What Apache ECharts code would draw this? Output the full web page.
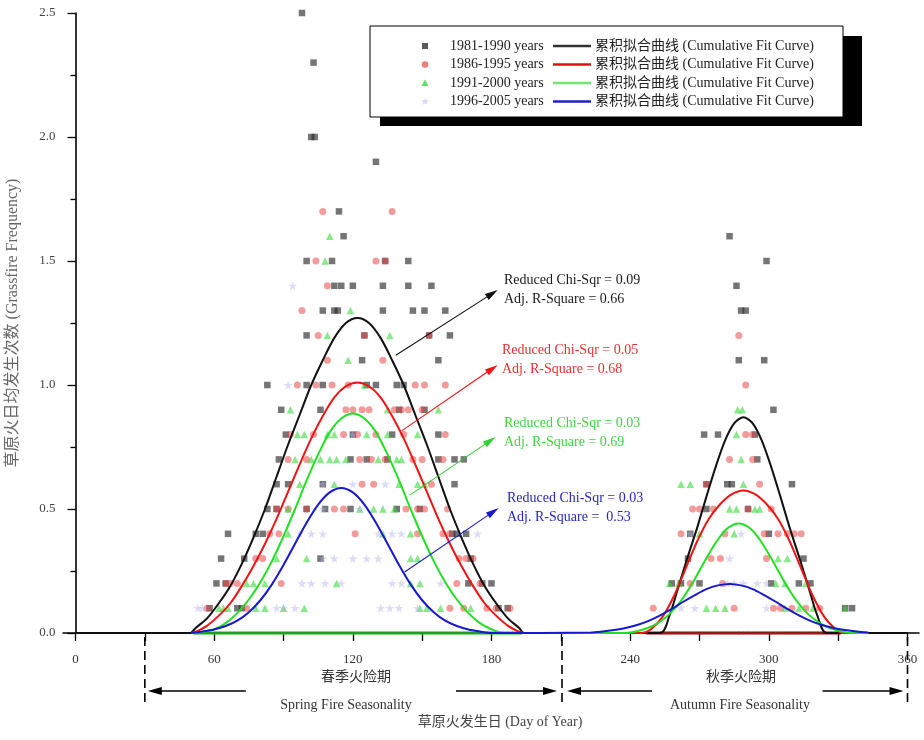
<!DOCTYPE html>
<html><head><meta charset="utf-8">
<script src="https://cdn.jsdelivr.net/npm/echarts/dist/echarts.min.js"></script>
<style>html,body{margin:0;padding:0;background:#fff}#c{width:924px;height:740px}</style>
</head><body><div id="c"></div>
<script>
// ---------------- data ----------------
const xTicks = [0, 60, 120, 180, 240, 300, 360];
const yTicks = [0.0, 0.5, 1.0, 1.5, 2.0, 2.5];

const seriesNames = ['1981-1990 years', '1986-1995 years', '1991-2000 years', '1996-2005 years'];
const curveName = '累积拟合曲线 (Cumulative Fit Curve)';

const black8190 = [[98,2.5],[103,2.3],[102,2.0],[103.5,2.0],[130,1.9],[114,1.7],[116,1.6],
[100,1.5],[111,1.5],[134,1.5],[144,1.5],
[112,1.4],[115,1.4],[120,1.4],[133,1.4],[144,1.4],[154,1.4],
[107,1.3],[112,1.3],[113.5,1.3],[133,1.3],[146,1.3],[151,1.3],[160,1.3],
[100,1.2],[125,1.2],[153,1.2],[162,1.2],
[124,1.1],[157,1.1],
[83,1.0],[100,1.0],[107,1.0],[126,1.0],[130,1.0],[139,1.0],[142,1.0],
[89,0.9],[106,0.9],[140,0.9],[151,0.9],
[91,0.8],[120,0.8],[137,0.8],[157,0.8],
[88,0.7],[119,0.7],[126,0.7],[135,0.7],[157,0.7],[164,0.7],[168,0.7],
[87,0.6],[92,0.6],[107,0.6],[164,0.6],
[83,0.5],[87,0.5],[100,0.5],[108,0.5],[119,0.5],[139,0.5],[149,0.5],
[66,0.4],[78,0.4],[81,0.4],[163,0.4],[165,0.4],[169,0.4],
[63,0.3],[73,0.3],[106,0.3],[171,0.3],
[61,0.2],[65,0.2],[170,0.2],[176,0.2],[180,0.2],
[58,0.1],[70,0.1],[72,0.1],[183,0.1],[187,0.1],
[283,1.6],[299,1.5],[286,1.4],[288,1.3],[290,1.3],[287,1.1],[298,1.1],[302,0.9],
[272,0.8],[278,0.8],[294,0.8],[295,0.7],
[273,0.6],[282,0.6],[284,0.6],[310,0.6],
[273,0.5],[291,0.5],[266,0.4],[300,0.4],[265,0.3],[315,0.3],
[258,0.2],[262,0.2],[270,0.2],[301,0.2],[313,0.2],[318,0.2],
[333,0.1],[336,0.1]];

const red8695 = [[107,1.7],[137,1.7],[104,1.5],[130,1.5],[134,1.5],[109,1.4],[98,1.3],
[105,1.2],[125,1.2],[153,1.2],[109,1.1],[133,1.1],
[96,1.0],[104,1.0],[111,1.0],[118,1.0],[147,1.0],[151,1.0],[160,1.0],
[117,0.9],[120,0.9],[124,0.9],[127,0.9],[138,0.9],[141,0.9],[144,0.9],[150,0.9],
[93,0.8],[103,0.8],[116,0.8],[122,0.8],[130,0.8],[142,0.8],[160,0.8],
[92,0.7],[100,0.7],[123,0.7],[128,0.7],[134,0.7],[146,0.7],[150,0.7],[159,0.7],
[124,0.6],[129,0.6],[154,0.6],
[87,0.5],[92,0.5],[100,0.5],[112,0.5],[116,0.5],[143,0.5],[148,0.5],[151,0.5],[161,0.5],
[84,0.4],[88,0.4],[121,0.4],[148,0.4],[159,0.4],[162,0.4],
[78,0.3],[81,0.3],[166,0.3],[169,0.3],[172,0.3],
[65,0.2],[67,0.2],[70,0.2],[89,0.2],[165,0.2],[175,0.2],
[57,0.1],[74,0.1],[162,0.1],[168,0.1],[178,0.1],[182,0.1],[188,0.1],
[287,1.2],[290,1.0],[290,0.8],[293,0.8],[283,0.7],[293,0.7],
[273,0.6],[296,0.6],
[267,0.5],[270,0.5],[276,0.5],[291,0.5],[301,0.5],
[262,0.4],[281,0.4],[298,0.4],[304,0.4],[308,0.4],[311,0.4],[314,0.4],
[275,0.3],[279,0.3],[299,0.3],
[266,0.2],[280,0.2],
[250,0.1],[285,0.1],[302,0.1],[305,0.1],[310,0.1],[316,0.1],[322,0.1]];

const green9100 = [[110,1.6],[108,1.5],[119,1.3],[109,1.2],[136,1.2],[118,1.1],[125,1.0],
[93,0.9],[135,0.9],[157,0.9],
[96,0.8],[99,0.8],[109,0.8],[112,0.8],[126,0.8],[135,0.8],[148,0.8],
[95,0.7],[102,0.7],[106,0.7],[110,0.7],[113,0.7],[117,0.7],[131,0.7],[139,0.7],[141,0.7],
[97,0.6],[112,0.6],[140,0.6],[148,0.6],[151,0.6],
[92,0.5],[123,0.5],[129,0.5],[133,0.5],[138,0.5],
[92,0.4],[133,0.4],[145,0.4],
[87,0.3],[100,0.3],[145,0.3],[148,0.3],
[74,0.2],[77,0.2],[82,0.2],[113,0.2],[145,0.2],[149,0.2],
[62,0.1],[64,0.1],[66,0.1],[78,0.1],[82,0.1],[90,0.1],[99,0.1],[149,0.1],[152,0.1],[158,0.1],[171,0.1],
[286.5,0.9],[288.5,0.9],[286,0.8],[288,0.7],
[262,0.6],[266,0.6],[289,0.6],
[283,0.5],[286,0.5],[294,0.5],[296,0.5],
[270,0.4],[285,0.4],
[304,0.3],[308,0.3],
[257,0.2],[261,0.2],[303,0.2],[307,0.2],[316,0.2],
[273,0.1],[277,0.1],[281,0.1],[307,0.1],[313,0.1],[319,0.1],[333,0.1]];

const blue9605 = [[94,1.4],[92,1.0],[120,0.8],
[107,0.6],[120,0.6],[134,0.6],
[107,0.5],[123,0.5],
[97,0.4],[102,0.4],[107,0.4],[131,0.4],[137,0.4],[141,0.4],[174,0.4],
[107,0.3],[112,0.3],[120,0.3],[126,0.3],[131,0.3],
[98,0.2],[102,0.2],[108,0.2],[115,0.2],[137,0.2],[141,0.2],[158,0.2],
[53,0.1],[55,0.1],[87,0.1],[90,0.1],[95,0.1],[132,0.1],[136,0.1],[140,0.1],[148,0.1],
[266,0.4],[288,0.4],[283,0.3],
[282,0.2],[285,0.2],[289,0.2],[295,0.2],[299,0.2],
[262,0.1],[268,0.1],[299,0.1]];

// days with zero frequency (drawn along the baseline)
const green9100ZeroDays = [52,54,56,58,60,62,64,66,68,70,72,74,76,78,80,82,84,86,88,90,92,94,96,98,100,102,104,106,108,110,112,114,116,118,120,122,124,126,128,130,132,134,136,138,140,142,144,146,148,150,152,154,156,158,160,162,164,166,168,170,172,174,176,178,180,182,184,186,188,190,192];
const red8695ZeroDays = [248,250,252,254,256,258,260,262,264,266,268,270,272,274,276,278,280,282,284,286,288,290,292,294,296,298,300,302,304,306,308,310,312,314,316,318,320,322,324,326,328,330];

// cumulative fit curves
const blackCurve = [[50,0],[52,0.02],[57,0.06],[62,0.12],[67,0.19],[72,0.28],[77,0.385],[82,0.50],[87,0.63],[92,0.76],[97,0.88],[102,1.0],[107,1.10],[112,1.19],[117,1.25],[122,1.27],[127,1.25],[132,1.19],[137,1.10],[142,1.0],[147,0.88],[152,0.76],[157,0.63],[162,0.50],[167,0.385],[172,0.28],[177,0.19],[182,0.12],[187,0.06],[192,0.02],[194,0],[220,0],[253,0],[257,0.07],[261,0.19],[265,0.31],[269,0.425],[273,0.55],[277,0.67],[281,0.775],[285,0.845],[289,0.87],[293,0.845],[297,0.775],[301,0.67],[305,0.55],[309,0.425],[313,0.31],[317,0.19],[321,0.07],[325,0],[343,0]];
const redCurve = [[50,0],[52,0.005],[57,0.03],[62,0.07],[67,0.12],[72,0.19],[77,0.27],[82,0.36],[87,0.46],[92,0.57],[97,0.68],[102,0.785],[107,0.875],[112,0.95],[117,0.995],[122,1.01],[127,0.995],[132,0.95],[137,0.875],[142,0.785],[147,0.68],[152,0.57],[157,0.46],[162,0.36],[167,0.27],[172,0.19],[177,0.12],[182,0.07],[187,0.03],[192,0.005],[194,0],[245,0],[249,0.015],[254,0.065],[259,0.15],[264,0.26],[269,0.37],[274,0.46],[279,0.52],[284,0.56],[289,0.575],[294,0.56],[299,0.52],[304,0.46],[309,0.37],[314,0.26],[319,0.15],[324,0.065],[329,0.015],[332,0],[343,0]];
const greenCurve = [[50,0],[55,0.005],[60,0.015],[65,0.04],[70,0.08],[75,0.135],[80,0.205],[85,0.29],[90,0.39],[95,0.50],[100,0.615],[105,0.72],[110,0.81],[115,0.865],[120,0.885],[125,0.865],[130,0.81],[135,0.72],[140,0.615],[145,0.50],[150,0.39],[155,0.29],[160,0.205],[165,0.135],[170,0.08],[175,0.04],[180,0.015],[185,0],[237,0],[242,0.005],[247,0.018],[252,0.04],[257,0.076],[262,0.13],[267,0.202],[272,0.285],[277,0.364],[282,0.421],[287,0.442],[292,0.421],[297,0.364],[302,0.285],[307,0.202],[312,0.13],[317,0.076],[322,0.04],[327,0.018],[332,0.005],[337,0],[343,0]];
const blueCurve = [[50,0],[55,0.006],[60,0.014],[65,0.028],[70,0.05],[75,0.084],[80,0.132],[85,0.196],[90,0.274],[95,0.36],[100,0.445],[105,0.518],[110,0.567],[115,0.585],[120,0.567],[125,0.518],[130,0.445],[135,0.36],[140,0.274],[145,0.196],[150,0.132],[155,0.084],[160,0.05],[165,0.028],[170,0.014],[175,0.006],[180,0],[223,0.002],[228,0.006],[233,0.012],[238,0.02],[243,0.032],[248,0.049],[253,0.071],[258,0.097],[263,0.126],[268,0.153],[273,0.177],[278,0.192],[283,0.198],[288,0.192],[293,0.177],[298,0.153],[303,0.126],[308,0.097],[313,0.071],[318,0.049],[323,0.032],[328,0.02],[333,0.012],[338,0.006],[343,0.002]];

// fit statistics
const chiSqr = ['0.09', '0.05', '0.03', '0.03'];
const adjR2 = ['0.66', '0.68', '0.69', ' 0.53'];
// season boundaries (day of year)
const seasonBounds = [30, 210.5, 360];

// ---------------- styles ----------------
const FONT = "'Liberation Serif','Noto Sans CJK SC',serif";
const ptColors = ['rgba(45,45,45,0.82)', 'rgba(232,70,70,0.68)', 'rgba(50,215,50,0.72)', 'rgba(175,175,235,0.55)'];
const lineColors = ['#111111', '#f01414', '#22e022', '#1818d0'];
const textColors = ['#1a1a1a', '#e83030', '#3ed83e', '#2626c8'];
const starPath = 'path://M50,2 L61,36 L97,36 L68,57 L79,92 L50,71 L21,92 L32,57 L3,36 L39,36 Z';
const symbols = ['rect', 'circle', 'triangle', starPath];
const symSizes = [6.5, 7, 7.5, 9];
const pts = [black8190, red8695, green9100, blue9605];
const curves = [blackCurve, redCurve, greenCurve, blueCurve];

const chart = echarts.init(document.getElementById('c'));
const series = [];
pts.forEach((d, i) => series.push({
  name: seriesNames[i], type: 'scatter', data: d, symbol: symbols[i], symbolSize: symSizes[i],
  itemStyle: {color: ptColors[i]}, silent: true
}));
curves.forEach((d, i) => series.push({
  name: 'curve' + i, type: 'line', data: d, showSymbol: false, smooth: 0.3,
  lineStyle: {color: lineColors[i], width: 2}, silent: true
}));
series.push({type: 'scatter', data: green9100ZeroDays.map(d => [d, 0]), symbol: 'rect', symbolSize: [5, 3.5],
  itemStyle: {color: 'rgba(40,200,40,0.95)'}, silent: true});
series.push({type: 'scatter', data: red8695ZeroDays.map(d => [d, 0]), symbol: 'rect', symbolSize: [5, 3.5],
  itemStyle: {color: 'rgba(190,30,30,0.95)'}, silent: true});

const tickStyle = {color: '#000', width: 1.3};
chart.setOption({
  animation: false,
  backgroundColor: '#fff',
  grid: {left: 75.5, right: 16.5, top: 13, bottom: 107, containLabel: false, outerBoundsMode: 'none'},
  xAxis: {
    type: 'value', min: xTicks[0], max: xTicks[xTicks.length - 1], interval: xTicks[1] - xTicks[0],
    axisLine: {show: true, lineStyle: {color: '#000', width: 1.6}},
    axisTick: {show: true, length: 8, lineStyle: tickStyle},
    minorTick: {show: true, splitNumber: 2, length: 8, lineStyle: tickStyle},
    axisLabel: {margin: 20, fontSize: 13, color: '#333', fontFamily: FONT, showMaxLabel: true, showMinLabel: true},
    splitLine: {show: false}, minorSplitLine: {show: false}
  },
  yAxis: {
    type: 'value', min: yTicks[0], max: yTicks[yTicks.length - 1], interval: yTicks[1] - yTicks[0],
    axisLine: {show: true, lineStyle: {color: '#000', width: 1.6}},
    axisTick: {show: true, length: 8, lineStyle: tickStyle},
    minorTick: {show: true, splitNumber: 2, length: 5, lineStyle: tickStyle},
    axisLabel: {margin: 20, fontSize: 13, color: '#444', fontFamily: FONT, formatter: v => v.toFixed(1)},
    splitLine: {show: false}, minorSplitLine: {show: false},
    name: '草原火日均发生次数 (Grassfire Frequency)', nameLocation: 'middle', nameGap: 55,
    nameTextStyle: {fontSize: 16, color: '#666', fontFamily: FONT}
  },
  series: series
});

// ---------------- decorations ----------------
const px = (d, v) => chart.convertToPixel({gridIndex: 0}, [d, v]);
const g = [];
function arrowHead(x1, y1, x2, y2, len, w, color) {
  const a = Math.atan2(y2 - y1, x2 - x1);
  const bx = x2 - len * Math.cos(a), by = y2 - len * Math.sin(a);
  const nx = -Math.sin(a) * w / 2, ny = Math.cos(a) * w / 2;
  return {type: 'polygon', shape: {points: [[x2, y2], [bx + nx, by + ny], [bx - nx, by - ny]]}, style: {fill: color}, z: 50};
}
function arrow(x1, y1, x2, y2, color, lw, len, w) {
  const a = Math.atan2(y2 - y1, x2 - x1);
  g.push({type: 'line', shape: {x1, y1, x2: x2 - len * 0.8 * Math.cos(a), y2: y2 - len * 0.8 * Math.sin(a)}, style: {stroke: color, lineWidth: lw}, z: 50});
  g.push(arrowHead(x1, y1, x2, y2, len, w, color));
}
function text(x, y, s, color, size, align) {
  g.push({type: 'text', x, y, style: {text: s, fill: color, font: size + 'px ' + FONT, textAlign: align || 'left', textVerticalAlign: 'middle'}, z: 60});
}

// axis line extensions
const o = px(0, 0), e = px(360, 0);
g.push({type: 'line', shape: {x1: o[0] - 13, y1: o[1], x2: e[0] + 12, y2: o[1]}, style: {stroke: '#000', lineWidth: 1.6}, z: 1});

// annotations
const annStart = [[138.6, 1.12], [141.1, 0.815], [144.6, 0.556], [142.4, 0.246]];
const annEnd = [[182.7, 1.383], [182.7, 1.081], [181.8, 0.79], [183.1, 0.504]];
const annText = [[504, 280], [502, 350], [504, 423], [507, 498]];
for (let i = 0; i < 4; i++) {
  const s = px(annStart[i][0], annStart[i][1]), t = px(annEnd[i][0], annEnd[i][1]);
  arrow(s[0], s[1], t[0], t[1], lineColors[i] === '#22e022' ? '#33d033' : lineColors[i], 1.1, 13, 7);
  text(annText[i][0], annText[i][1], 'Reduced Chi-Sqr = ' + chiSqr[i], textColors[i], 14);
  text(annText[i][0], annText[i][1] + 19.5, 'Adj. R-Square = ' + adjR2[i], textColors[i], 14);
}

// legend box
g.push({type: 'rect', shape: {x: 380, y: 36, width: 482, height: 90}, style: {fill: '#000'}, z: 40});
g.push({type: 'rect', shape: {x: 370, y: 26, width: 473, height: 91}, style: {fill: '#fff', stroke: '#000', lineWidth: 1}, z: 41});
const rowY = [46, 64.5, 83, 101.5];
const legSym = [
  y => ({type: 'rect', shape: {x: 422, y: y - 3, width: 6, height: 6}, style: {fill: 'rgba(60,60,60,0.85)'}}),
  y => ({type: 'circle', shape: {cx: 425, cy: y, r: 3.3}, style: {fill: 'rgba(232,80,80,0.75)'}}),
  y => ({type: 'polygon', shape: {points: [[425, y - 3.5], [428.5, y + 3], [421.5, y + 3]]}, style: {fill: 'rgba(60,215,60,0.8)'}}),
  y => ({type: 'polygon', shape: {points: [[425,y-4],[426,y-1.2],[429,y-1.2],[426.6,y+0.6],[427.5,y+3.5],[425,y+1.8],[422.5,y+3.5],[423.4,y+0.6],[421,y-1.2],[424,y-1.2]]}, style: {fill: 'rgba(190,190,240,0.6)'}})
];
const legLine = ['#333', '#e01010', '#6ee86e', '#2020c0'];
for (let i = 0; i < 4; i++) {
  const s = legSym[i](rowY[i]); s.z = 45; g.push(s);
  text(450, rowY[i], seriesNames[i], '#222', 14);
  g.push({type: 'line', shape: {x1: 553, y1: rowY[i], x2: 591, y2: rowY[i]}, style: {stroke: legLine[i], lineWidth: 2.6}, z: 45});
  text(595, rowY[i], curveName, '#222', 14);
}

// season boundaries and arrows
const bx = seasonBounds.map(d => px(d, 0)[0]);
bx.forEach(x => g.push({type: 'line', shape: {x1: x, y1: 637, x2: x, y2: 702}, style: {stroke: '#000', lineWidth: 1.6, lineDash: [9, 5]}, z: 30}));
const ay = 691;
arrow(bx[0] + 101, ay, bx[0] + 3, ay, '#000', 1.3, 14, 8);
arrow(bx[1] - 106, ay, bx[1] - 5, ay, '#000', 1.3, 14, 8);
arrow(bx[1] + 90, ay, bx[1] + 5, ay, '#000', 1.3, 14, 8);
arrow(bx[2] - 85, ay, bx[2] - 4, ay, '#000', 1.3, 14, 8);
text(356, 677, '春季火险期', '#333', 14, 'center');
text(346, 705, 'Spring Fire Seasonality', '#333', 14, 'center');
text(741, 677, '秋季火险期', '#333', 14, 'center');
text(740, 705, 'Autumn Fire Seasonality', '#333', 14, 'center');
text(500, 722, '草原火发生日 (Day of Year)', '#444', 14, 'center');

chart.setOption({graphic: {elements: g}});
</script></body></html>
